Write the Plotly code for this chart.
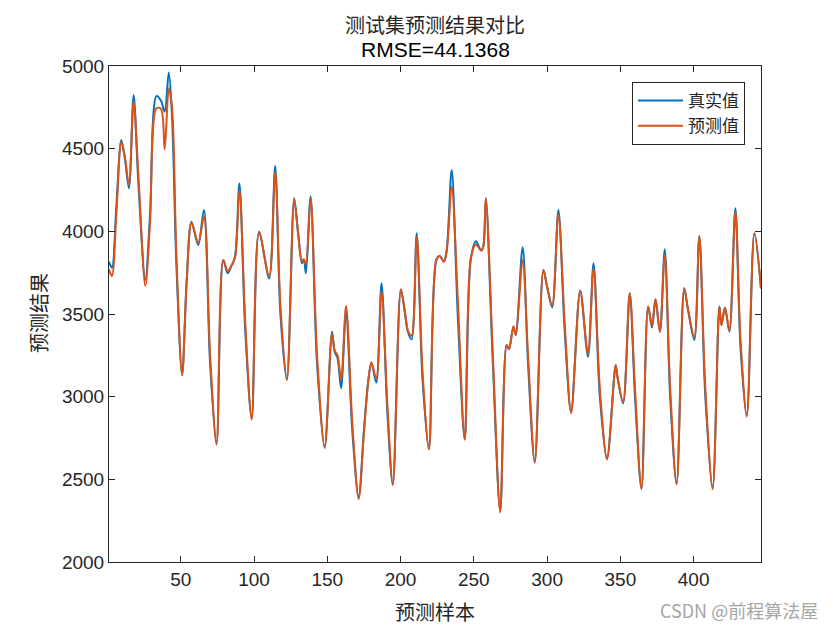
import plotly.graph_objects as go

# sample index of key points
sample_idx = [1, 3, 6, 9.4, 12, 14.6, 17.8, 21, 25.8, 29, 33.4, 36.5, 39, 41.8, 44, 47, 50.9, 54, 57.3, 61.9,
              65.8, 70, 74.4, 79, 82, 84.5, 87, 90, 94, 98.4, 103.4, 110.3, 114.4, 118, 122.4, 127.4, 130, 132.7,
              134, 135.4, 138.6, 143, 148.2, 153.2, 155, 157, 159.4, 162.8, 167, 171.4, 175, 177.9, 180.1, 183.4,
              187, 191, 194.7, 200.2, 203, 205, 207.5, 211, 215, 219.4, 224.4, 226.7, 229.6, 231.5, 234.9, 239,
              243.8, 247.9, 251.4, 255, 256.5, 258.2, 263, 268, 272.4, 274, 277, 278.6, 283.3, 287, 291.6, 297.5,
              300, 303.5, 307.7, 312, 316.4, 322.6, 327.9, 331.7, 336, 340.9, 346.8, 348, 351.9, 356.4, 360, 364.4,
              369, 371.6, 374, 377, 380.3, 384, 388.4, 393.6, 396, 400.5, 403.9, 408, 413, 417.6, 419, 421.4,
              424.4, 428.5, 432, 436.3, 441.5, 446]

true_vals = [3816, 3780, 4150, 4552, 4430, 4260, 4825, 4300, 3706, 4100, 4818, 4790, 4724, 4960, 4700, 3800, 3131,
             3700, 4058, 3917, 4129, 3200, 2722, 3827, 3746, 3790, 3847, 4290, 3400, 2875, 3998, 3716, 4395, 3500,
             3105, 4200, 3990, 3807, 3830, 3746, 4210, 3200, 2698, 3393, 3272, 3232, 3051, 3510, 2800, 2395, 2800,
             3091, 3206, 3085, 3686, 2900, 2472, 3648, 3504, 3393, 3347, 3988, 3100, 2694, 3827, 3851, 3817, 3888,
             4371, 3500, 2742, 3831, 3940, 3884, 3910, 4200, 3200, 2311, 3313, 3287, 3424, 3373, 3904, 3200, 2607,
             3766, 3665, 3540, 4129, 3400, 2909, 3641, 3242, 3807, 3000, 2627, 3192, 3121, 2960, 3625, 3000, 2446,
             3545, 3418, 3589, 3393, 3891, 3000, 2476, 3655, 3537, 3343, 3972, 3000, 2452, 3545, 3433, 3540, 3393,
             4140, 3300, 2889, 3988, 3655]

pred_vals = [3770, 3730, 4100, 4540, 4440, 4280, 4784, 4350, 3670, 4050, 4744, 4740, 4496, 4865, 4750, 3850, 3131,
             3690, 4050, 3930, 4088, 3250, 2710, 3827, 3760, 3790, 3840, 4250, 3450, 2860, 3990, 3730, 4360, 3550,
             3100, 4190, 4000, 3820, 3830, 3800, 4200, 3250, 2690, 3380, 3280, 3250, 3100, 3548, 2850, 2380, 2780,
             3090, 3206, 3110, 3636, 2950, 2465, 3648, 3510, 3400, 3370, 3968, 3150, 2680, 3827, 3851, 3817, 3880,
             4270, 3600, 2740, 3831, 3920, 3884, 3910, 4200, 3250, 2300, 3313, 3287, 3424, 3373, 3827, 3250, 2600,
             3766, 3665, 3550, 4104, 3450, 2900, 3641, 3260, 3777, 3050, 2620, 3192, 3121, 2970, 3625, 3050, 2440,
             3545, 3430, 3589, 3393, 3857, 3050, 2470, 3655, 3537, 3360, 3968, 3050, 2440, 3545, 3433, 3540, 3400,
             4120, 3350, 2880, 3988, 3655]

series_names = ["真实值", "预测值"]
title_line1 = "测试集预测结果对比"
title_line2 = "RMSE=44.1368"
x_title = "预测样本"
y_title = "预测结果"
x_ticks = [50, 100, 150, 200, 250, 300, 350, 400]
y_ticks = [2000, 2500, 3000, 3500, 4000, 4500, 5000]
watermark = "CSDN @前程算法屋"

CJK = "Noto Sans CJK SC"
NUM = "Liberation Sans, Arial"
AX = "#262626"

fig = go.Figure()
fig.add_trace(go.Scatter(x=sample_idx, y=true_vals, mode="lines", name=series_names[0],
                         line=dict(color="#0072BD", width=2, shape="spline", smoothing=0.9)))
fig.add_trace(go.Scatter(x=sample_idx, y=pred_vals, mode="lines", name=series_names[1],
                         line=dict(color="#D95319", width=2, shape="spline", smoothing=0.9)))

# page offset of the figure (body margin)
OFF = 8
# target plot box in page pixels
X0, X1, Y0, Y1 = 109, 761, 66, 562
W, H = 840, 630
L, T = X0 - OFF, Y0 - OFF
R, B = W - (X1 - OFF), H - (Y1 - OFF)
pw, ph = X1 - X0, Y1 - Y0


def px(x):
    return (x - X0) / pw


def py(y):
    return (Y1 - y) / ph


fig.update_layout(
    width=W, height=H, margin=dict(l=L, r=R, t=T, b=B, autoexpand=False),
    paper_bgcolor="white", plot_bgcolor="white",
    showlegend=True,
    legend=dict(x=px(745), y=py(82), xanchor="right", yanchor="top",
                bgcolor="white", bordercolor=AX, borderwidth=1,
                font=dict(family=CJK, size=17, color=AX),
                tracegroupgap=0, itemwidth=45),
    xaxis=dict(range=[1, 446], tickvals=x_ticks, ticks="inside", ticklen=6, tickcolor=AX,
               showline=True, linecolor=AX, linewidth=1, mirror="allticks", showgrid=False, zeroline=False,
               tickfont=dict(family=NUM, size=19, color=AX)),
    yaxis=dict(range=[2000, 5000], tickvals=y_ticks, ticks="inside", ticklen=6, tickcolor=AX,
               showline=True, linecolor=AX, linewidth=1, mirror="allticks", showgrid=False, zeroline=False,
               tickfont=dict(family=NUM, size=19, color=AX)),
    annotations=[
        dict(text=title_line1, x=0.5, y=py(8), xref="paper", yref="paper", showarrow=False,
             xanchor="center", yanchor="top", font=dict(family=CJK, size=20, color=AX)),
        dict(text=title_line2, x=0.5, y=py(49), xref="paper", yref="paper", showarrow=False,
             xanchor="center", yanchor="middle", font=dict(family=NUM, size=21, color="#000000")),
        dict(text=x_title, x=0.5, y=py(611), xref="paper", yref="paper", showarrow=False,
             xanchor="center", yanchor="middle", font=dict(family=CJK, size=20, color=AX)),
        dict(text=y_title, x=px(38), y=py(313), xref="paper", yref="paper", showarrow=False, textangle=-90,
             xanchor="center", yanchor="middle", font=dict(family=CJK, size=20, color=AX)),
        dict(text=watermark, x=px(739), y=py(610), xref="paper", yref="paper", showarrow=False,
             xanchor="center", yanchor="middle", font=dict(family=CJK, size=18, color="#a6a6a6")),
    ],
)

fig.write_html("out.html")
